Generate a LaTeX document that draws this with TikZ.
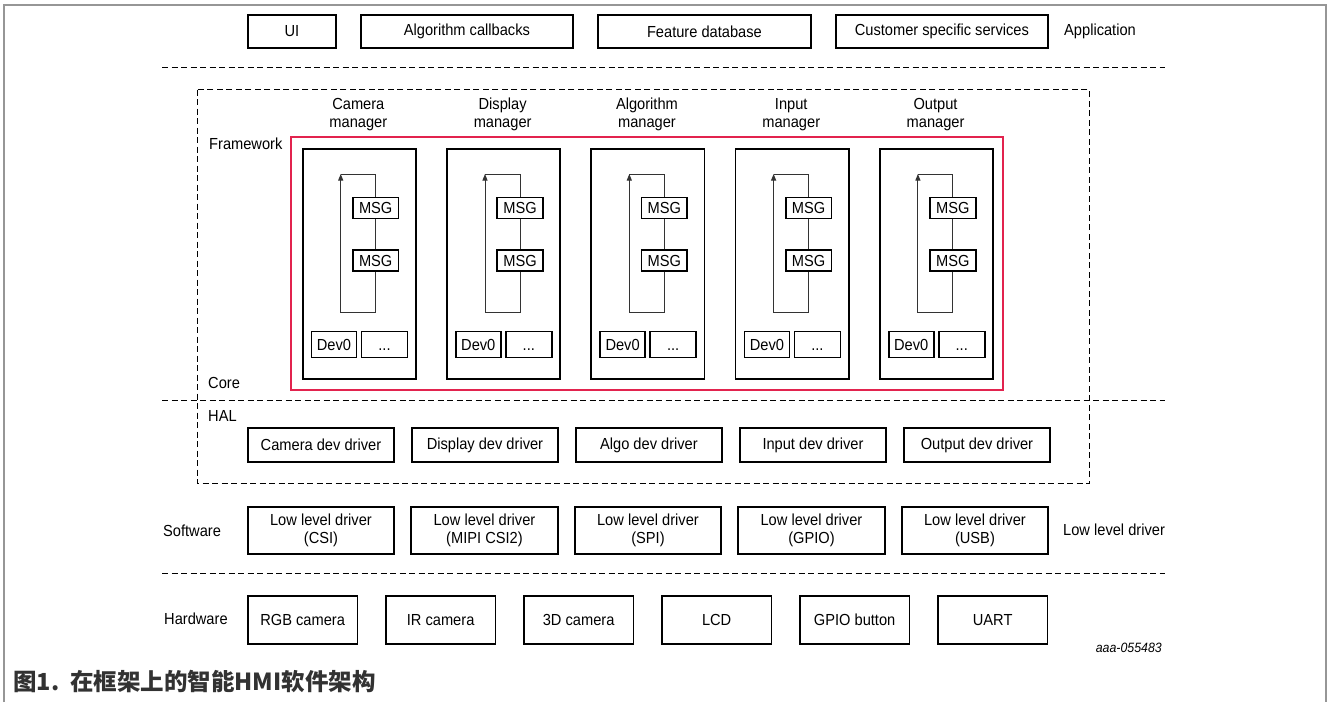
\documentclass[tikz,border=0pt]{standalone}
\usepackage{fontspec}
\setmainfont{Liberation Sans}[FakeStretch=0.915]
\newfontfamily\cjk{Noto Sans CJK SC}
\usetikzlibrary{arrows.meta}
\definecolor{nxpred}{RGB}{226,35,78}
\definecolor{framegray}{RGB}{150,150,150}
\definecolor{captext}{RGB}{50,50,50}
\begin{document}
\begin{tikzpicture}[x=1pt,y=-1pt,
  every node/.style={font=\fontsize{16}{18.5}\selectfont, inner sep=0pt, text=black},
  blk/.style={draw=black, line width=1.8pt, anchor=north west, align=center},
  thinbox/.style={draw=black, line width=1.6pt, anchor=north west},
  sep/.style={draw=black, line width=0.9pt, dash pattern=on 6pt off 3.5pt},
  lab/.style={anchor=west},
  flow/.style={draw=black!80, line width=1pt},
  tip/.style={-{Triangle[length=6.5pt,width=5pt]}},
]
\useasboundingbox (0,0) rectangle (1327,702);
% outer frame
\draw[framegray, line width=1.5pt] (4,702) -- (4,5) -- (1326,5) -- (1326,702);

% Application row
\node[blk, minimum width=88pt, minimum height=33pt] (ui) at (247,14) {UI};
\node[blk, minimum width=212pt, minimum height=33pt] (algcb) at (360,14) {Algorithm callbacks};
\node[blk, minimum width=213pt, minimum height=33pt] (featdb) at (597,14) {Feature database};
\node[blk, minimum width=212pt, minimum height=33pt] (cust) at (835,14) {Customer specific services};
\node[lab] (lapp) at (1064,31) {Application};

% separators
\draw[sep] (162,67) -- (1165,67);
\draw[sep] (162,400.7) -- (1165,400.7);
\draw[sep] (162,573.5) -- (1165,573.5);

% framework region
\draw[sep] (197.3,89.5) rectangle (1089.3,483.3);
\draw[nxpred, line width=1.8pt] (290.7,137.3) rectangle (1003,390);
\node[lab] (lfw) at (209,144) {Framework};
\node[lab] (lcore) at (208,383) {Core};
\node[lab] (lhal) at (208,416) {HAL};

% managers
\foreach \i/\nm in {0/Camera,1/Display,2/Algorithm,3/Input,4/Output} {
  \pgfmathsetmacro\xl{301.7+144.3*\i}
  \node[blk, minimum width=113.3pt, minimum height=230pt] (mgr\i) at (\xl,148) {};
  \node[align=center] (mlab\i) at (\xl+56.65,114.5) {\nm\\manager};
  \node[thinbox, anchor=center, minimum width=45.6pt, minimum height=21pt] (msga\i) at (\xl+74,207.8) {MSG};
  \node[thinbox, anchor=center, minimum width=45.6pt, minimum height=21pt] (msgb\i) at (\xl+74,260.5) {MSG};
  \node[thinbox, minimum width=45pt, minimum height=26pt] (dev\i) at (\xl+9,330.7) {Dev0};
  \node[thinbox, minimum width=46pt, minimum height=26pt] (dots\i) at (\xl+59,330.7) {\vphantom{Dev0}...};
  \coordinate (tl\i) at (\xl+39,174);
  \coordinate (bl\i) at (\xl+39,312);
  \coordinate (tr\i) at (\xl+74,174);
  \coordinate (br\i) at (\xl+74,312);
  \draw[flow] (msga\i.south) -- (msgb\i.north);
  \draw[flow, tip] (msgb\i.south) -- (br\i) -- (bl\i) -- (tl\i);
  \draw[flow] (tl\i) -- (tr\i) -- (msga\i.north);
}

% HAL drivers
\foreach \i/\t in {0/Camera dev driver,1/Display dev driver,2/Algo dev driver,3/Input dev driver,4/Output dev driver} {
  \node[blk, minimum width=146.7pt, minimum height=33.4pt] (drv\i) at (246.7+164*\i,427.3) {\t};
}

% low level drivers
\node[lab] (lsw) at (163,530.7) {Software};
\node[lab] (llld) at (1063,530) {Low level driver};
\foreach \i/\t in {0/CSI,1/MIPI CSI2,2/SPI,3/GPIO,4/USB} {
  \node[blk, minimum width=146.7pt, minimum height=47.3pt] (lld\i) at (246.7+163.5*\i,506) {Low level driver\\(\t)};
}

% hardware
\node[lab] (lhw) at (164,618.3) {Hardware};
\foreach \i/\t in {0/RGB camera,1/IR camera,2/3D camera,3/LCD,4/GPIO button,5/UART} {
  \node[blk, minimum width=109.5pt, minimum height=47.7pt] (hw\i) at (247+138*\i,595) {\t};
}
\node[anchor=east, font=\fontsize{13.5}{16}\selectfont\itshape] (code) at (1162,648) {aaa-055483};

% caption
\node[anchor=west, font=\cjk\bfseries\fontsize{23.5}{26}\selectfont, text=captext] (cap) at (13,681) {图1.\ \ 在框架上的智能HMI软件架构};
\end{tikzpicture}
\end{document}
